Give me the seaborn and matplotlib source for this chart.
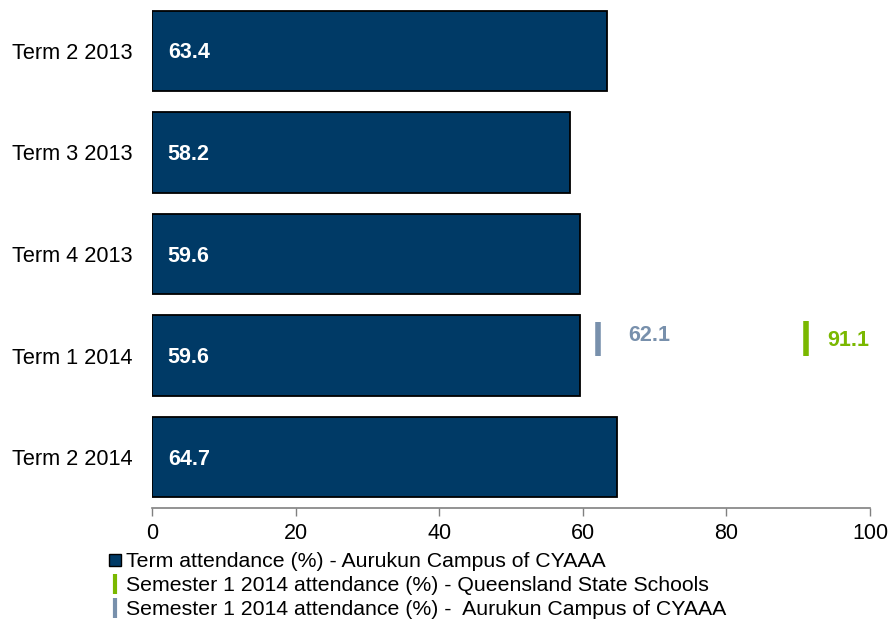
import matplotlib
matplotlib.use("Agg")
import matplotlib.pyplot as plt
import seaborn as sns
import pandas as pd
from matplotlib.lines import Line2D

terms = ["Term 2 2013", "Term 3 2013", "Term 4 2013", "Term 1 2014", "Term 2 2014"]
attendance = [63.4, 58.2, 59.6, 59.6, 64.7]
sem_term = "Term 1 2014"
sem_aurukun = 62.1
sem_qld = 91.1
legend_labels = ["Term attendance (%) - Aurukun Campus of CYAAA",
                 "Semester 1 2014 attendance (%) - Queensland State Schools",
                 "Semester 1 2014 attendance (%) -  Aurukun Campus of CYAAA"]

bar_color = "#003A66"
qld_color = "#7AB800"
aur_color = "#7890AC"

sns.set_style("white")
plt.rcParams["font.family"] = ["Liberation Sans", "DejaVu Sans"]
plt.rcParams["text.color"] = "black"

fig = plt.figure(figsize=(8.92, 6.26), dpi=100)
ax = fig.add_axes([152/892, 1 - 508/626, (870-152)/892, 508/626])

df = pd.DataFrame({"term": terms, "value": attendance})
sns.barplot(data=df, x="value", y="term", orient="h", color=bar_color,
            saturation=1, width=0.79, edgecolor="black", linewidth=1.3, ax=ax)

for i, v in enumerate(attendance):
    ax.text(2.2, i + 0.02, f"{v:.1f}", color="white", fontweight="bold",
            fontsize=15.5, va="center", ha="left")

yi = terms.index(sem_term)
ax.vlines(sem_aurukun, yi - 0.33, yi, color=aur_color, linewidth=4)
ax.vlines(sem_qld, yi - 0.34, yi, color=qld_color, linewidth=4)
ax.text(sem_aurukun + 4.2, yi - 0.2, f"{sem_aurukun:.1f}", color=aur_color,
        fontweight="bold", fontsize=15.5, va="center", ha="left")
ax.text(sem_qld + 3.0, yi - 0.15, f"{sem_qld:.1f}", color=qld_color,
        fontweight="bold", fontsize=15.5, va="center", ha="left")

ax.set_xlim(0, 100)
ax.set_ylim(4.5, -0.5)
ax.set_xticks([0, 20, 40, 60, 80, 100])
ax.set_xlabel("")
ax.set_ylabel("")
for s in ["top", "right", "left"]:
    ax.spines[s].set_visible(False)
ax.spines["bottom"].set_color("#808080")
ax.spines["bottom"].set_linewidth(1.2)
ax.tick_params(axis="x", bottom=True, length=6, width=1, color="#808080",
               labelsize=15.5, pad=5, labelcolor="black")
ax.tick_params(axis="y", left=False, labelsize=15.7, pad=10.5, labelcolor="black")

handles = [Line2D([0], [0], marker="s", color="none", markerfacecolor=bar_color,
                  markeredgecolor="black", markersize=8),
           Line2D([0], [0], marker="|", color="none", markeredgecolor=qld_color,
                  markersize=14, markeredgewidth=3),
           Line2D([0], [0], marker="|", color="none", markeredgecolor=aur_color,
                  markersize=14, markeredgewidth=3)]
leg = fig.legend(handles, legend_labels, loc="upper left",
                 bbox_to_anchor=(109/892, 1 - 552/626), frameon=False, fontsize=15.3,
                 handlelength=0.6, handletextpad=0.2, labelspacing=0.24,
                 borderpad=0, borderaxespad=0)
for t in leg.get_texts():
    t.set_color("black")

fig.savefig("out.png", dpi=100)
